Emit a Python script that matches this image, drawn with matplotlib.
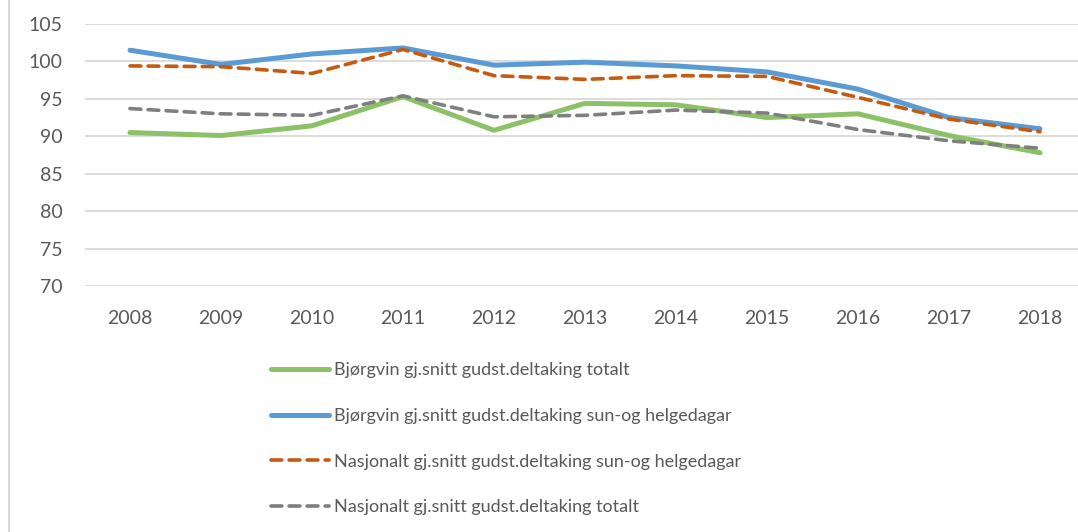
import matplotlib
matplotlib.use("Agg")
import matplotlib.pyplot as plt
from matplotlib.lines import Line2D

# data
years = ["2008", "2009", "2010", "2011", "2012", "2013", "2014", "2015", "2016", "2017", "2018"]
bjorgvin_totalt = [90.5, 90.1, 91.4, 95.3, 90.8, 94.4, 94.2, 92.5, 93.0, 90.1, 87.8]
bjorgvin_sun = [101.5, 99.6, 101.0, 101.8, 99.5, 99.9, 99.4, 98.6, 96.3, 92.5, 91.0]
nasjonalt_sun = [99.4, 99.3, 98.4, 101.6, 98.1, 97.6, 98.1, 98.0, 95.2, 92.3, 90.6]
nasjonalt_totalt = [93.7, 93.0, 92.8, 95.4, 92.6, 92.8, 93.5, 93.1, 90.9, 89.4, 88.4]

labels = [
    "Bjørgvin gj.snitt gudst.deltaking totalt",
    "Bjørgvin gj.snitt gudst.deltaking sun-og helgedagar",
    "Nasjonalt gj.snitt gudst.deltaking sun-og helgedagar",
    "Nasjonalt gj.snitt gudst.deltaking totalt",
]
yticks = [70, 75, 80, 85, 90, 95, 100, 105]

plt.rcParams['font.family'] = ['Lato', 'DejaVu Sans']
text_color = '#595959'

fig = plt.figure(figsize=(10.78, 5.32), dpi=100)
ax = fig.add_axes([84.5 / 1078, 1 - 286 / 532, 1001 / 1078, 262 / 532])

x = list(range(len(years)))
ax.plot(x, bjorgvin_totalt, color='#8cc168', lw=3.6, solid_capstyle='round', solid_joinstyle='round', zorder=3)
ax.plot(x, bjorgvin_sun, color='#5b9bd5', lw=3.6, solid_capstyle='round', solid_joinstyle='round', zorder=3)
ax.plot(x, nasjonalt_sun, color='#c55a11', lw=2.6, dashes=(3, 2.0), dash_capstyle='round', zorder=4)
ax.plot(x, nasjonalt_totalt, color='#7f7f7f', lw=2.6, dashes=(3, 2.0), dash_capstyle='round', zorder=4)

ax.set_xlim(-0.5, len(years) - 0.5)
ax.set_ylim(70, 105)
ax.set_xticks(x)
ax.set_xticklabels(years)
ax.set_yticks(yticks)
ax.yaxis.grid(True, color='#d9d9d9', lw=1.3)
ax.set_axisbelow(True)
for s in ax.spines.values():
    s.set_visible(False)
ax.tick_params(length=0, labelsize=14, colors=text_color)
ax.tick_params(axis='x', pad=17)
ax.tick_params(axis='y', pad=16)

handles = [
    Line2D([], [], color='#8cc168', lw=3.6, solid_capstyle='round'),
    Line2D([], [], color='#5b9bd5', lw=3.6, solid_capstyle='round'),
    Line2D([], [], color='#c55a11', lw=2.6, dashes=(3, 2.0), dash_capstyle='round'),
    Line2D([], [], color='#7f7f7f', lw=2.6, dashes=(3, 2.0), dash_capstyle='round'),
]
leg = fig.legend(handles, labels, loc='upper left', bbox_to_anchor=(262 / 1078, 1 - 353 / 532),
                 frameon=False, fontsize=13, handlelength=3.2, handletextpad=0.28,
                 labelspacing=1.65, borderpad=0)
for t in leg.get_texts():
    t.set_color(text_color)

# thin frame line on the left edge of the chart area
fig.add_artist(Line2D([9 / 1078, 9 / 1078], [0, 1], color='#d9d9d9', lw=1.5))

fig.savefig('out.png', dpi=100)
